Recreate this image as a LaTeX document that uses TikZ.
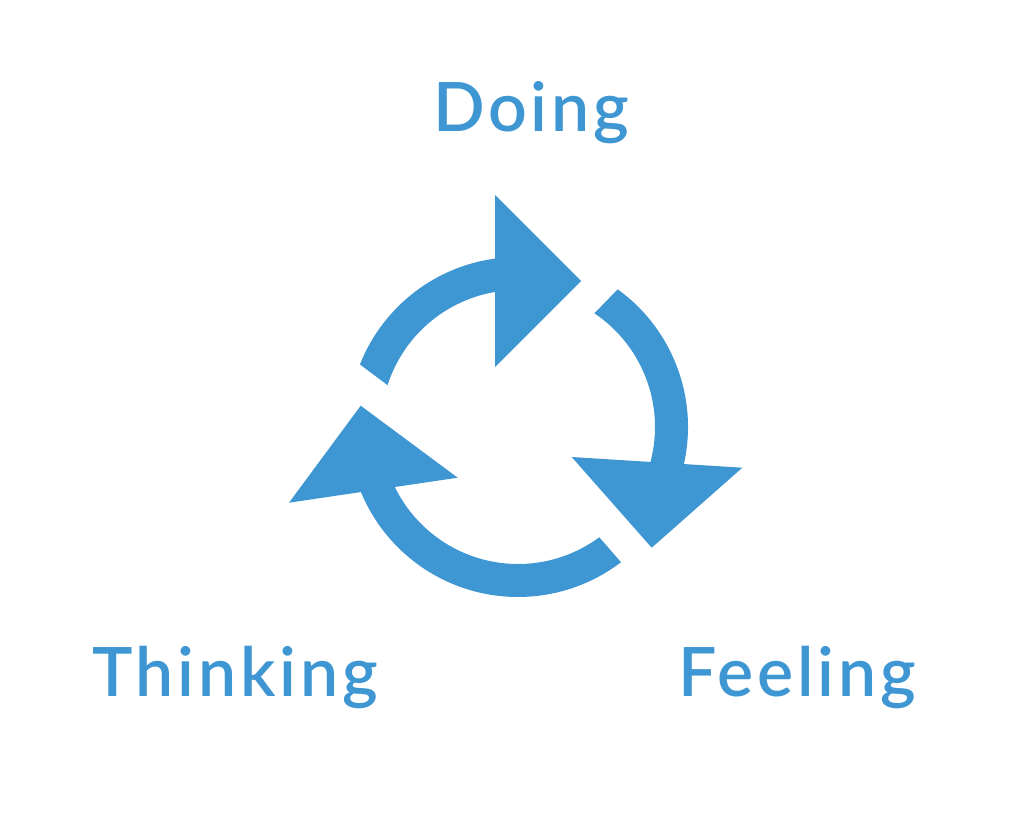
\documentclass[tikz,border=0pt]{standalone}
\usepackage{fontspec}
\setmainfont{Lato Semibold}[LetterSpace=5.5]
\usepackage{tikz}
\usepackage{xcolor}

\begin{document}
\begin{tikzpicture}[x=0.75pt,y=0.75pt,yscale=-1,xscale=1]
        \useasboundingbox (0,0) rectangle (1013,817); %set diagram to 1013 x 817

        %Shape: Arcs round the centre (518,427)
        \begin{scope}[shift={(518,427)}]
        %Shape: Arc [id:top]
        \draw  [draw opacity=0][fill={rgb, 255:red, 62; green, 150; blue, 210 }  ,fill opacity=1 ]  (201.6:170) arc [start angle=201.6, end angle=264, radius=170] -- (264:137) arc [start angle=264, end angle=197.8, radius=137] -- cycle ;
        %Shape: Arc [id:right]
        \draw  [draw opacity=0][fill={rgb, 255:red, 62; green, 150; blue, 210 }  ,fill opacity=1 ]  (305.9:170) arc [start angle=305.9, end angle=377, radius=170] -- (377:137) arc [start angle=377, end angle=303.9, radius=137] -- cycle ;
        %Shape: Arc [id:bottom]
        \draw  [draw opacity=0][fill={rgb, 255:red, 62; green, 150; blue, 210 }  ,fill opacity=1 ]  (52.7:170) arc [start angle=52.7, end angle=160, radius=170] -- (160:137) arc [start angle=160, end angle=53.6, radius=137] -- cycle ;
        \end{scope}

        %Shape: Triangle [id:head top]
        \draw  [draw opacity=0][fill={rgb, 255:red, 62; green, 150; blue, 210 }  ,fill opacity=1 ]  (495,195) -- (581,281) -- (495,367) -- cycle ;
        %Shape: Triangle [id:head right]
        \draw  [draw opacity=0][fill={rgb, 255:red, 62; green, 150; blue, 210 }  ,fill opacity=1 ]  (571.7,457) -- (742.3,467.7) -- (651.7,547.7) -- cycle ;
        %Shape: Triangle [id:head left]
        \draw  [draw opacity=0][fill={rgb, 255:red, 62; green, 150; blue, 210 }  ,fill opacity=1 ]  (289,502.7) -- (360.7,405.7) -- (457.7,477.7) -- cycle ;

        % Text Node
        \draw (531,131) node (doing) [anchor=base][inner sep=0pt]  [color={rgb, 255:red, 62; green, 150; blue, 210 }  ,opacity=1 ] [font=\fontsize{51}{60}\selectfont] {Doing};
        % Text Node
        \draw (235,696) node (thinking) [anchor=base][inner sep=0pt]  [color={rgb, 255:red, 62; green, 150; blue, 210 }  ,opacity=1 ] [font=\fontsize{51}{60}\selectfont] {Thinking};
        % Text Node
        \draw (797,696) node (feeling) [anchor=base][inner sep=0pt]  [color={rgb, 255:red, 62; green, 150; blue, 210 }  ,opacity=1 ] [font=\fontsize{51}{60}\selectfont] {Feeling};

\end{tikzpicture}
\end{document}
